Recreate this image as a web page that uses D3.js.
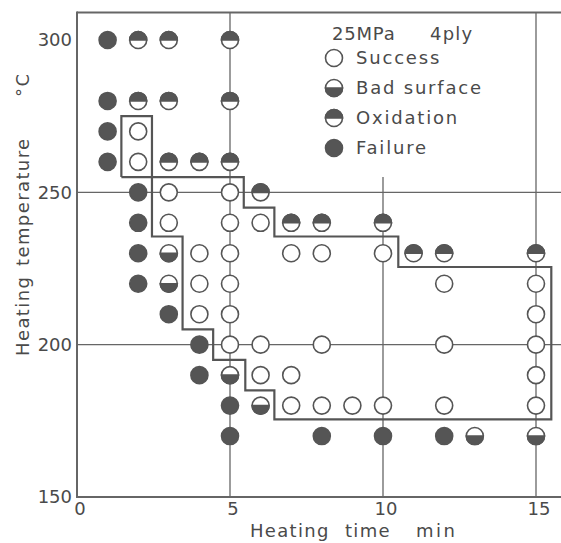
<!DOCTYPE html>
<html><head><meta charset="utf-8">
<script src="https://cdn.jsdelivr.net/npm/d3@7"></script>
<style>
html,body{margin:0;padding:0;background:#fff;}
text{font-family:"DejaVu Sans",sans-serif;fill:#4a4a4a;}
</style></head>
<body>
<svg id="chart" width="561" height="543"></svg>
<script>
// ---- data ----
const xTicks = [0, 5, 10, 15];
const yTicks = [150, 200, 250, 300];
const xGrid = [5, 10, 15];
const yGrid = [200, 250];
const categories = ["Success", "Bad surface", "Oxidation", "Failure"];
const success = [[2,270],[2,260],[3,250],[5,250],[3,240],[5,240],[6,240],[4,230],[5,230],[7,230],[8,230],[10,230],
  [4,220],[5,220],[12,220],[15,220],[4,210],[5,210],[15,210],[5,200],[6,200],[8,200],[12,200],[15,200],
  [6,190],[7,190],[15,190],[7,180],[8,180],[9,180],[10,180],[12,180],[15,180]];
const badSurface = [[3,230],[3,220],[5,190],[6,180],[13,170],[15,170]];
const oxidation = [[2,300],[3,300],[5,300],[2,280],[3,280],[5,280],[3,260],[4,260],[5,260],[6,250],
  [7,240],[8,240],[10,240],[11,230],[12,230],[15,230]];
const failure = [[1,300],[1,280],[1,270],[1,260],[2,250],[2,240],[2,230],[2,220],[3,210],[4,200],[4,190],
  [5,180],[5,170],[8,170],[10,170],[12,170]];
const boundary = [[1.45,255],[1.45,275],[2.45,275],[2.45,255],[5.45,255],[5.45,245],[6.45,245],[6.45,235.5],
  [10.5,235.5],[10.5,225.5],[15.5,225.5],[15.5,175.5],[6.45,175.5],[6.45,185],[5.5,185],[5.5,195],
  [4.45,195],[4.45,205],[3.45,205],[3.45,235.5],[2.45,235.5],[2.45,255],[1.45,255]];
const headerText = ["25MPa", "4ply"];
const xTitleWords = ["Heating", "time", "min"];
const yTitleWords = ["Heating", "temperature", "°C"];

// ---- drawing ----
const W = 561, H = 543;
const svg = d3.select("#chart");
const x = d3.scaleLinear().domain([0, 15]).range([77, 536]);
const y = d3.scaleLinear().domain([150, 300]).range([497, 40]);
const yTop = y(309);
const ink = "#555";
const lineCol = "#666";

// frame lines
const g = svg.append("g");
g.append("line").attr("x1", x(0)).attr("x2", W).attr("y1", yTop).attr("y2", yTop)
  .attr("stroke", lineCol).attr("stroke-width", 2);
g.append("line").attr("x1", x(0)).attr("x2", W).attr("y1", y(150)).attr("y2", y(150))
  .attr("stroke", lineCol).attr("stroke-width", 2);
g.append("line").attr("x1", x(0)).attr("x2", x(0)).attr("y1", yTop - 1).attr("y2", y(150) + 1)
  .attr("stroke", lineCol).attr("stroke-width", 2);

// grid lines
g.selectAll(".hg").data(yGrid).join("line")
  .attr("x1", x(0)).attr("x2", W).attr("y1", d => y(d)).attr("y2", d => y(d))
  .attr("stroke", lineCol).attr("stroke-width", 1.3);
g.selectAll(".vg").data(xGrid).join("line")
  .attr("x1", d => x(d)).attr("x2", d => x(d))
  .attr("y1", d => d === 10 ? y(255) : yTop).attr("y2", y(150))
  .attr("stroke", lineCol).attr("stroke-width", 1.3);

// tick labels
svg.selectAll(".xt").data(xTicks).join("text")
  .attr("x", d => x(d) + 3).attr("y", 515).attr("text-anchor", "middle")
  .attr("font-size", 18).text(d => d);
svg.selectAll(".yt").data(yTicks).join("text")
  .attr("x", 72).attr("y", d => y(d)).attr("dy", "0.36em").attr("text-anchor", "end")
  .attr("font-size", 18).text(d => d);

// axis titles (words spaced like the original lettering)
const xt = svg.append("text").attr("y", 537).attr("font-size", 18).attr("letter-spacing", 1.3);
const xWordX = [250, 345, 416];
xTitleWords.forEach((w, i) => xt.append("tspan").attr("x", xWordX[i])
  .attr("letter-spacing", i === 2 ? 2.5 : 1.3).text(w));

const yt = svg.append("text").attr("transform", `translate(29,0) rotate(-90)`)
  .attr("font-size", 18).attr("letter-spacing", 1.4);
const yWordPos = [-356, -266, -97];
yTitleWords.forEach((w, i) => yt.append("tspan").attr("x", yWordPos[i]).text(w));

// boundary
svg.append("path").datum(boundary)
  .attr("d", d3.line().x(d => x(d[0])).y(d => y(d[1])))
  .attr("fill", "none").attr("stroke", ink).attr("stroke-width", 2.2).attr("stroke-linejoin", "miter");

// symbols
const R = 8.5;
function drawSymbol(sel, type) {
  sel.append("circle").attr("r", R).attr("fill", type === "Failure" ? ink : "#fff")
    .attr("stroke", ink).attr("stroke-width", 1.6);
  if (type === "Oxidation") {
    sel.append("path").attr("d", `M${-R},0 A${R},${R} 0 0 1 ${R},0 Z`).attr("fill", ink)
      .attr("stroke", ink).attr("stroke-width", 1.6);
  } else if (type === "Bad surface") {
    sel.append("path").attr("d", `M${-R},0 A${R},${R} 0 0 0 ${R},0 Z`).attr("fill", ink)
      .attr("stroke", ink).attr("stroke-width", 1.6);
  }
}
const sets = [[success, "Success"], [badSurface, "Bad surface"], [oxidation, "Oxidation"], [failure, "Failure"]];
sets.forEach(([pts, type]) => {
  svg.append("g").selectAll("g").data(pts).join("g")
    .attr("transform", d => `translate(${x(d[0])},${y(d[1])})`)
    .each(function () { drawSymbol(d3.select(this), type); });
});

// legend
const leg = svg.append("g");
leg.append("text").attr("x", 332).attr("y", 40).attr("font-size", 18).attr("letter-spacing", 0.8).text(headerText[0]);
leg.append("text").attr("x", 430).attr("y", 40).attr("font-size", 18).attr("letter-spacing", 1.2).text(headerText[1]);
const legY = d3.scalePoint().domain(categories).range([58, 148]);
categories.forEach(c => {
  const gi = leg.append("g").attr("transform", `translate(334,${legY(c)})`);
  drawSymbol(gi, c);
  leg.append("text").attr("x", 356).attr("y", legY(c)).attr("dy", "0.36em")
    .attr("font-size", 18).attr("letter-spacing", 1.8).text(c);
});
</script>
</body></html>
